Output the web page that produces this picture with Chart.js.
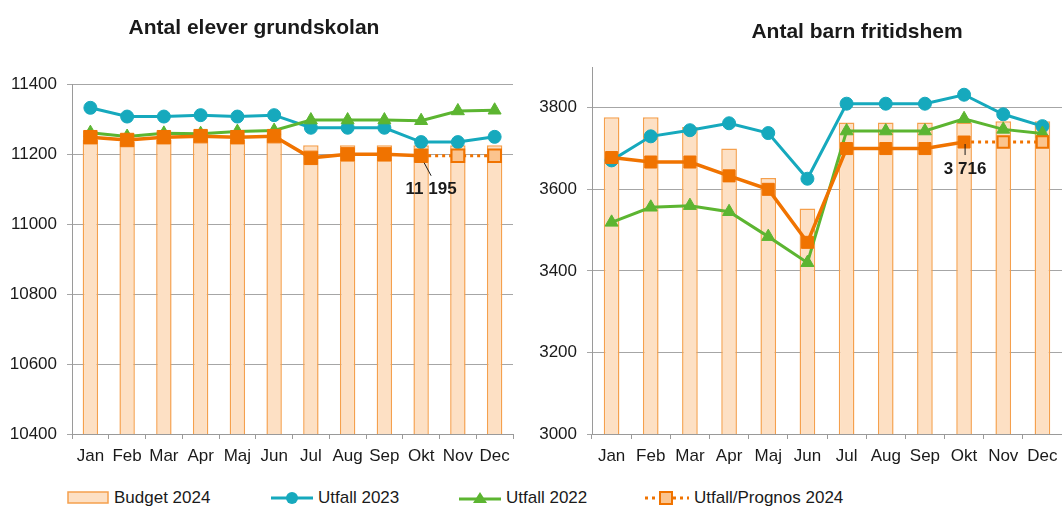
<!DOCTYPE html>
<html>
<head>
<meta charset="utf-8">
<script src="https://cdn.jsdelivr.net/npm/chart.js@4"></script>
<style>
  body { margin: 0; background: #fff; font-family: "Liberation Sans", Arial, sans-serif; color: #1a1a1a; }
  #wrap { position: relative; width: 1062px; height: 507px; overflow: hidden; }
  .box { position: absolute; top: 0; height: 475px; }
  .title { position: absolute; font-weight: bold; font-size: 21px; white-space: nowrap; transform: translate(-50%, -50%); }
  .leg { position: absolute; top: 488px; height: 20px; display: flex; align-items: center; font-size: 17px; white-space: nowrap; }
  .leg svg { margin-right: 5px; }
</style>
</head>
<body>
<div id="wrap">
  <div class="box" style="left:0;width:530px"><canvas id="elever"></canvas></div>
  <div class="box" style="left:530px;width:542px"><canvas id="barn"></canvas></div>
  <div class="title" style="left:254px;top:27px">Antal elever grundskolan</div>
  <div class="title" style="left:857px;top:31px">Antal barn fritidshem</div>

  <div class="leg" style="left:67px">
    <svg width="42" height="14"><rect x="1" y="1" width="40" height="11" fill="#fde0c4" stroke="#f5a04d" stroke-width="1.5"/></svg>Budget 2024
  </div>
  <div class="leg" style="left:271px">
    <svg width="42" height="14"><line x1="0" y1="7" x2="42" y2="7" stroke="#16a9bd" stroke-width="3"/><circle cx="21" cy="7" r="6" fill="#16a9bd"/></svg>Utfall 2023
  </div>
  <div class="leg" style="left:459px">
    <svg width="42" height="14"><line x1="0" y1="8" x2="42" y2="8" stroke="#5cb531" stroke-width="3"/><polygon points="21,1 28,12 14,12" fill="#5cb531"/></svg>Utfall 2022
  </div>
  <div class="leg" style="left:645px">
    <svg width="44" height="16"><line x1="0" y1="8" x2="44" y2="8" stroke="#f07300" stroke-width="3" stroke-dasharray="3,4"/><rect x="15" y="2" width="12" height="12" fill="#fbc48e" stroke="#f07300" stroke-width="2"/></svg>Utfall/Prognos 2024
  </div>
</div>

<script>
// Months
const months = ['Jan', 'Feb', 'Mar', 'Apr', 'Maj', 'Jun', 'Jul', 'Aug', 'Sep', 'Okt', 'Nov', 'Dec'];

// Antal elever grundskolan
const budgetElever = [11240, 11235, 11240, 11245, 11240, 11245, 11225, 11225, 11225, 11225, 11225, 11225];
const utfall2023Elever = [11332, 11307, 11307, 11311, 11307, 11311, 11275, 11275, 11275, 11234, 11234, 11249];
const utfall2022Elever = [11261, 11250, 11259, 11258, 11264, 11267, 11297, 11297, 11297, 11295, 11323, 11325];
const utfall2024Elever = [11248, 11240, 11248, 11251, 11248, 11251, 11189, 11199, 11199, 11195, null, null];
const prognos2024Elever = [null, null, null, null, null, null, null, null, null, 11195, 11195, 11195];
const ticksElever = [10400, 10600, 10800, 11000, 11200, 11400];

// Antal barn fritidshem
const budgetBarn = [3777, 3777, 3753, 3700, 3628, 3553, 3764, 3764, 3764, 3764, 3767, 3767];
const utfall2023Barn = [3671, 3730, 3745, 3762, 3738, 3626, 3810, 3810, 3810, 3832, 3784, 3755];
const utfall2022Barn = [3519, 3556, 3560, 3545, 3484, 3420, 3743, 3743, 3743, 3773, 3747, 3737];
const utfall2024Barn = [3678, 3667, 3667, 3633, 3600, 3470, 3700, 3700, 3700, 3716, null, null];
const prognos2024Barn = [null, null, null, null, null, null, null, null, null, 3716, 3716, 3716];
const ticksBarn = [3000, 3200, 3400, 3600, 3800];

const FONT = '"Liberation Sans", Arial, sans-serif';
const TEXT = '#1a1a1a';
const TEAL = '#16a9bd';
const GREEN = '#5cb531';
const ORANGE = '#f07300';

// leader line + value label at the last actual point
const callout = {
    id: 'callout',
    afterDatasetsDraw(chart, args, o) {
        const meta = chart.getDatasetMeta(0);
        const data = chart.data.datasets[0].data;
        let i = data.length - 1;
        while (i > 0 && data[i] == null) i--;
        const pt = meta.data[i];
        const ctx = chart.ctx;
        ctx.save();
        ctx.strokeStyle = '#1a1a1a';
        ctx.lineWidth = 1;
        ctx.beginPath();
        ctx.moveTo(pt.x + o.x0, pt.y + o.y0);
        ctx.lineTo(pt.x + o.x1, pt.y + o.y1);
        ctx.stroke();
        ctx.fillStyle = TEXT;
        ctx.font = 'bold 17px ' + FONT;
        ctx.textAlign = 'center';
        ctx.textBaseline = 'middle';
        const s = String(data[i]).replace(/\B(?=(\d{3})+(?!\d))/g, ' ');
        ctx.fillText(s, pt.x + o.tx, pt.y + o.ty);
        ctx.restore();
    }
};

function makeChart(id, budget, u2023, u2022, u2024, prog, tickVals, yMin, yMax, opts) {
    const ctx = document.getElementById(id).getContext('2d');
    return new Chart(ctx, {
        type: 'bar',
        data: {
            labels: months,
            datasets: [
                {
                    type: 'line', label: 'Utfall/Prognos 2024', data: u2024, order: 0,
                    borderColor: ORANGE, borderWidth: 3.5, backgroundColor: ORANGE,
                    pointStyle: 'rect', pointRadius: opts.sq, pointBorderWidth: 1, pointBackgroundColor: ORANGE
                },
                {
                    type: 'line', label: 'Prognos', data: prog, order: 1,
                    borderColor: ORANGE, borderWidth: 3, borderDash: [3, 4],
                    pointStyle: 'rect', pointBorderWidth: 2,
                    pointRadius: prog.map((v, i) => (v != null && u2024[i] == null) ? opts.sq - 0.5 : 0),
                    pointBackgroundColor: '#fbc48e', pointBorderColor: ORANGE
                },
                {
                    type: 'line', label: 'Utfall 2022', data: u2022, order: 2,
                    borderColor: GREEN, borderWidth: 3, backgroundColor: GREEN,
                    pointStyle: 'triangle', pointRadius: 7.5, pointBorderWidth: 1
                },
                {
                    type: 'line', label: 'Utfall 2023', data: u2023, order: 3,
                    borderColor: TEAL, borderWidth: 3, backgroundColor: TEAL,
                    pointStyle: 'circle', pointRadius: 6.5, pointBorderWidth: 1
                },
                {
                    type: 'bar', label: 'Budget 2024', data: budget, order: 4,
                    backgroundColor: '#fde0c4', borderColor: '#f5a04d', borderWidth: 1.5,
                    barPercentage: opts.barPct, categoryPercentage: 1
                }
            ]
        },
        options: {
            responsive: true,
            maintainAspectRatio: false,
            animation: false,
            events: [],
            layout: { padding: { top: opts.top, right: opts.right, left: 0, bottom: 0 } },
            scales: {
                x: {
                    offset: true,
                    grid: { drawOnChartArea: false, drawTicks: true, tickLength: 5, offset: true, color: '#9a9a9a' },
                    border: { color: '#9a9a9a' },
                    ticks: { color: TEXT, font: { family: FONT, size: 17 }, padding: 7, maxRotation: 0, autoSkip: false },
                    afterFit: s => { s.height = 41; s.paddingLeft = 0; s.paddingRight = 0; }
                },
                y: {
                    min: yMin, max: yMax,
                    ticks: { stepSize: 200, color: TEXT, font: { family: FONT, size: 17 }, padding: 10, callback: v => String(v) },
                    afterBuildTicks: s => { s.ticks = s.ticks.filter(t => tickVals.includes(t.value)); },
                    grid: { color: '#a6a6a6', tickLength: 5 },
                    border: { color: '#9a9a9a' },
                    afterFit: s => { s.width = opts.yw; }
                }
            },
            plugins: {
                legend: { display: false },
                tooltip: { enabled: false },
                callout: opts.callout
            }
        },
        plugins: [callout]
    });
}

makeChart('elever', budgetElever, utfall2023Elever, utfall2022Elever, utfall2024Elever, prognos2024Elever,
    ticksElever, 10400, 11400,
    { top: 84, right: 17, yw: 72, barPct: 0.42, sq: 9.5, callout: { x0: 3, y0: 7, x1: 10, y1: 20, tx: 10, ty: 34 } });

makeChart('barn', budgetBarn, utfall2023Barn, utfall2022Barn, utfall2024Barn, prognos2024Barn,
    ticksBarn, 3000, 3900,
    { top: 67, right: 0, yw: 62, barPct: 0.40, sq: 8.5, callout: { x0: 1, y0: 2, x1: 1, y1: 13, tx: 1, ty: 27 } });
</script>
</body>
</html>
